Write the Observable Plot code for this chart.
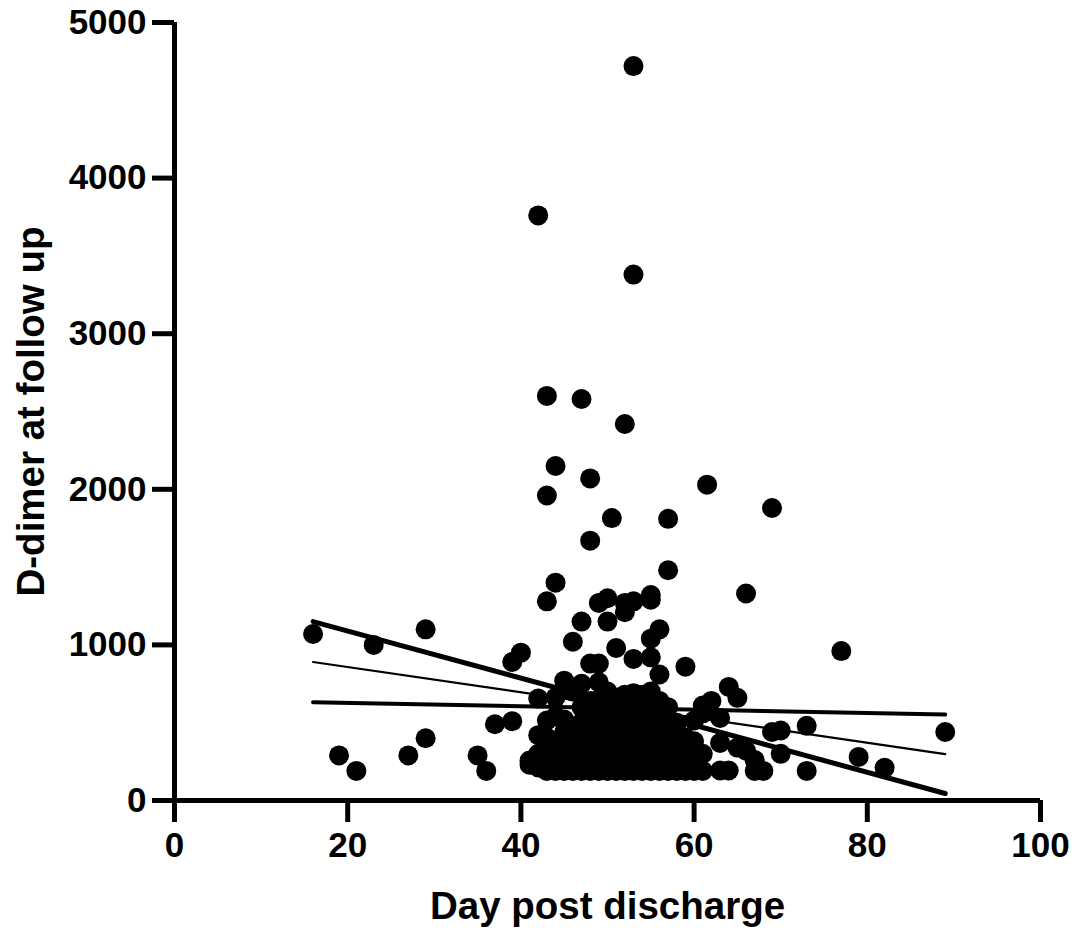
<!DOCTYPE html>
<html>
<head>
<meta charset="utf-8">
<script src="https://cdn.jsdelivr.net/npm/d3@7"></script>
<script src="https://cdn.jsdelivr.net/npm/@observablehq/plot@0.6"></script>
<style>
  html, body { margin: 0; padding: 0; background: #fff; }
  #chart svg { display: block; }
</style>
</head>
<body>
<div id="chart"></div>
<script>
// Scatter points (day post discharge, D-dimer at follow up)
const days = [
  16,19,21,23,27,29,29,35,36,37,39,39,40,41,42,42,43,43,43,44,44,44,45,46,47,47,48,48,48,49,49,50,50,51,52,52,52,53,53,53,53,55,55,55,55,56,56,57,57,50.5,59,61.5,66,69,77,89,73,73,79,82,69,70,70,64,65,62,61,63,67,68,67,64,63,61,59,63,65,66,60,59,
  41,
  42,42,42,
  43,43,43,43,
  44,44,44,44,
  45,45,45,45,45,
  46,46,46,46,46,46,
  47,47,47,47,47,47,47,
  48,48,48,48,48,48,48,
  49,49,49,49,49,49,49,
  50,50,50,50,50,50,50,50,
  51,51,51,51,51,51,
  52,52,52,52,52,52,52,
  53,53,53,53,53,53,53,
  54,54,54,54,54,54,54,
  55,55,55,55,55,55,55,
  56,56,56,56,56,56,
  57,57,57,57,57,
  58,58,58,58,58,
  59,59,
  60,60,60,
  61,61
];
const dimer = [
  1070,290,190,1000,290,1100,400,290,190,490,510,890,950,257,3760,655,2600,1960,1280,2150,1400,662,770,1020,2580,1150,2070,1670,880,880,1270,1300,1150,980,2420,1270,1210,4720,3380,1280,910,1320,1290,1040,920,1100,810,1810,1480,1815,860,2030,1330,1880,960,440,480,190,280,210,440,450,300,730,660,640,610,530,190,190,260,193,193,190,190,370,340,320,514,405,
  230,
  212,300,420,
  514,405,308,190,
  190,280,540,350,
  520,350,190,250,440,
  700,450,300,190,400,230,
  750,600,420,190,280,350,500,
  640,480,190,300,380,250,550,
  760,560,190,330,420,260,650,
  700,500,190,300,400,250,600,350,
  620,450,190,280,360,520,
  680,550,190,300,420,240,480,
  600,460,190,330,260,400,690,
  680,520,190,290,380,440,600,
  700,560,190,300,420,250,650,
  640,480,190,350,270,540,
  600,430,190,300,520,
  500,190,350,260,440,
  300,250,
  190,250,380,
  560,300
];

// Regression line and its two bounding lines (values at the first and last day)
const lineDays = [16, 89];
const steepLine = [1150, 45];
const fitLine = [890, 298];
const flatLine = [632, 553];

const xTicks = [0, 20, 40, 60, 80, 100];
const yTicks = [0, 1000, 2000, 3000, 4000, 5000];
const xLabel = "Day post discharge";
const yLabel = "D-dimer at follow up";

const points = days.map((d, i) => ({day: d, dimer: dimer[i]}));
const mkLine = (vals) => lineDays.map((d, i) => ({day: d, v: vals[i]}));

const chart = Plot.plot({
  width: 1077,
  height: 933,
  marginLeft: 174,
  marginRight: 37,
  marginTop: 22,
  marginBottom: 133,
  style: {
    fontFamily: "'Liberation Sans', Arial, Helvetica, sans-serif",
    fontWeight: "bold",
    color: "#000",
    background: "#fff"
  },
  x: {domain: [0, 100]},
  y: {domain: [0, 5000]},
  marks: [
    Plot.line(mkLine(steepLine), {x: "day", y: "v", stroke: "#000", strokeWidth: 5}),
    Plot.line(mkLine(fitLine), {x: "day", y: "v", stroke: "#000", strokeWidth: 2.2}),
    Plot.line(mkLine(flatLine), {x: "day", y: "v", stroke: "#000", strokeWidth: 4}),
    Plot.dot(points, {x: "day", y: "dimer", r: 10, fill: "#000", stroke: "none"}),
    Plot.ruleY([0], {stroke: "#000", strokeWidth: 5}),
    Plot.ruleX([0], {y1: 0, y2: 5000, stroke: "#000", strokeWidth: 5}),
    Plot.axisX({ticks: xTicks, tickSize: 22, tickPadding: 10, strokeWidth: 5, fontSize: 35, fontWeight: "bold", label: null, tickFormat: d => String(d)}),
    Plot.axisY({ticks: yTicks, tickSize: 22, tickPadding: 6, strokeWidth: 5, fontSize: 35, fontWeight: "bold", label: null, tickFormat: d => String(d)}),
    Plot.text([xLabel], {frameAnchor: "bottom", dy: 118, textAnchor: "middle", fontSize: 38.5, fontWeight: "bold", fill: "#000"}),
    Plot.text([yLabel], {frameAnchor: "left", dx: -143, rotate: -90, textAnchor: "middle", fontSize: 38.5, fontWeight: "bold", fill: "#000"})
  ]
});
document.getElementById("chart").appendChild(chart);
</script>
</body>
</html>
